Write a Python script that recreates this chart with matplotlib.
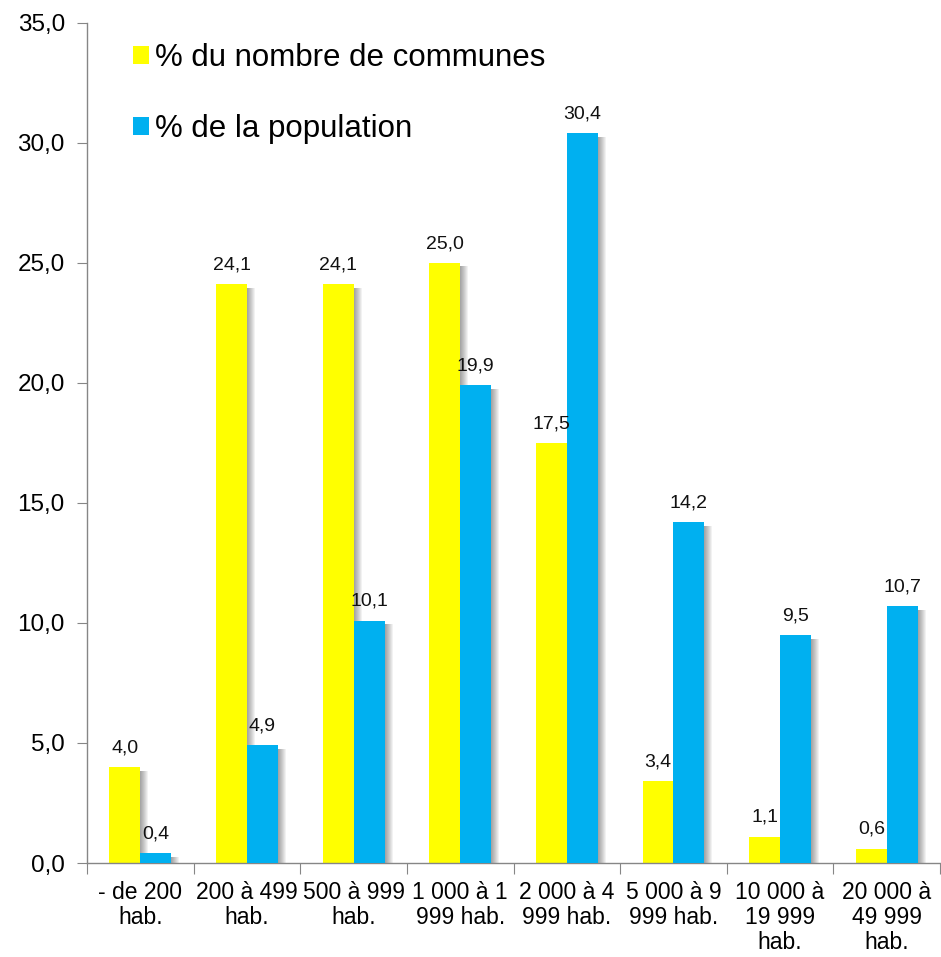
import numpy as np
import matplotlib
matplotlib.use('Agg')
import matplotlib.pyplot as plt
from matplotlib.patches import Patch

plt.rcParams['font.family'] = ['Liberation Sans', 'DejaVu Sans']

categories = ['- de 200\nhab.', '200 à 499\nhab.', '500 à 999\nhab.', '1 000 à 1\n999 hab.',
              '2 000 à 4\n999 hab.', '5 000 à 9\n999 hab.', '10 000 à\n19 999\nhab.',
              '20 000 à\n49 999\nhab.']
communes = [4.0, 24.1, 24.1, 25.0, 17.5, 3.4, 1.1, 0.6]
population = [0.4, 4.9, 10.1, 19.9, 30.4, 14.2, 9.5, 10.7]
series_names = ['% du nombre de communes', '% de la population']
colors = ['#FFFF00', '#00B0F0']

fig = plt.figure(figsize=(9.41, 9.57), dpi=100)
ax = fig.add_axes([0.0925, 0.0982, 0.9065, 0.878])

x = np.arange(len(categories)) + 0.5
w = 0.29
px = 1 / 107.0  # one pixel in x data units

for vals, off, col in [(communes, -w / 2, colors[0]), (population, w / 2, colors[1])]:
    vals = np.array(vals)
    # soft shadow to the right of each bar
    for k in range(1, 9):
        ax.bar(x + off + k * px, np.maximum(vals - 0.15, 0), width=w, color='black',
               alpha=0.05, linewidth=0, zorder=1)
    ax.bar(x + off, vals, width=w, color=col, linewidth=0, zorder=2 if col == colors[0] else 3)
    for xi, v in zip(x + off, vals):
        ax.text(xi, v + 0.45, f'{v:.1f}'.replace('.', ','), ha='center', va='bottom',
                fontsize=14, color='#111111', zorder=4)

ax.set_xlim(0, len(categories))
ax.set_ylim(0, 35)
ax.set_yticks(np.arange(0, 35.1, 5))
ax.set_yticklabels([f'{v:.1f}'.replace('.', ',') for v in np.arange(0, 35.1, 5)])

ax.set_xticks(np.arange(0, len(categories) + 1))
ax.set_xticklabels([])
ax.set_xticks(x, minor=True)
ax.set_xticklabels(categories, minor=True, fontsize=16.5, linespacing=1.1)
ax.tick_params(axis='x', which='minor', length=0, pad=13)
ax.tick_params(axis='x', which='major', length=8, color='#868686', direction='out')
ax.tick_params(axis='y', length=7, color='#868686', labelsize=17.5, pad=9)

for s in ['top', 'right']:
    ax.spines[s].set_visible(False)
for s in ['left', 'bottom']:
    ax.spines[s].set_color('#868686')
    ax.spines[s].set_linewidth(1.0)

handles = [Patch(facecolor=c, edgecolor='none') for c in colors]
fig.legend(handles, series_names, loc='upper left', bbox_to_anchor=(0.128, 0.968),
           frameon=False, fontsize=22.5, handlelength=0.5, handleheight=0.5,
           handletextpad=0.2, labelspacing=1.3, borderaxespad=0)

fig.savefig('out.png', dpi=100)
